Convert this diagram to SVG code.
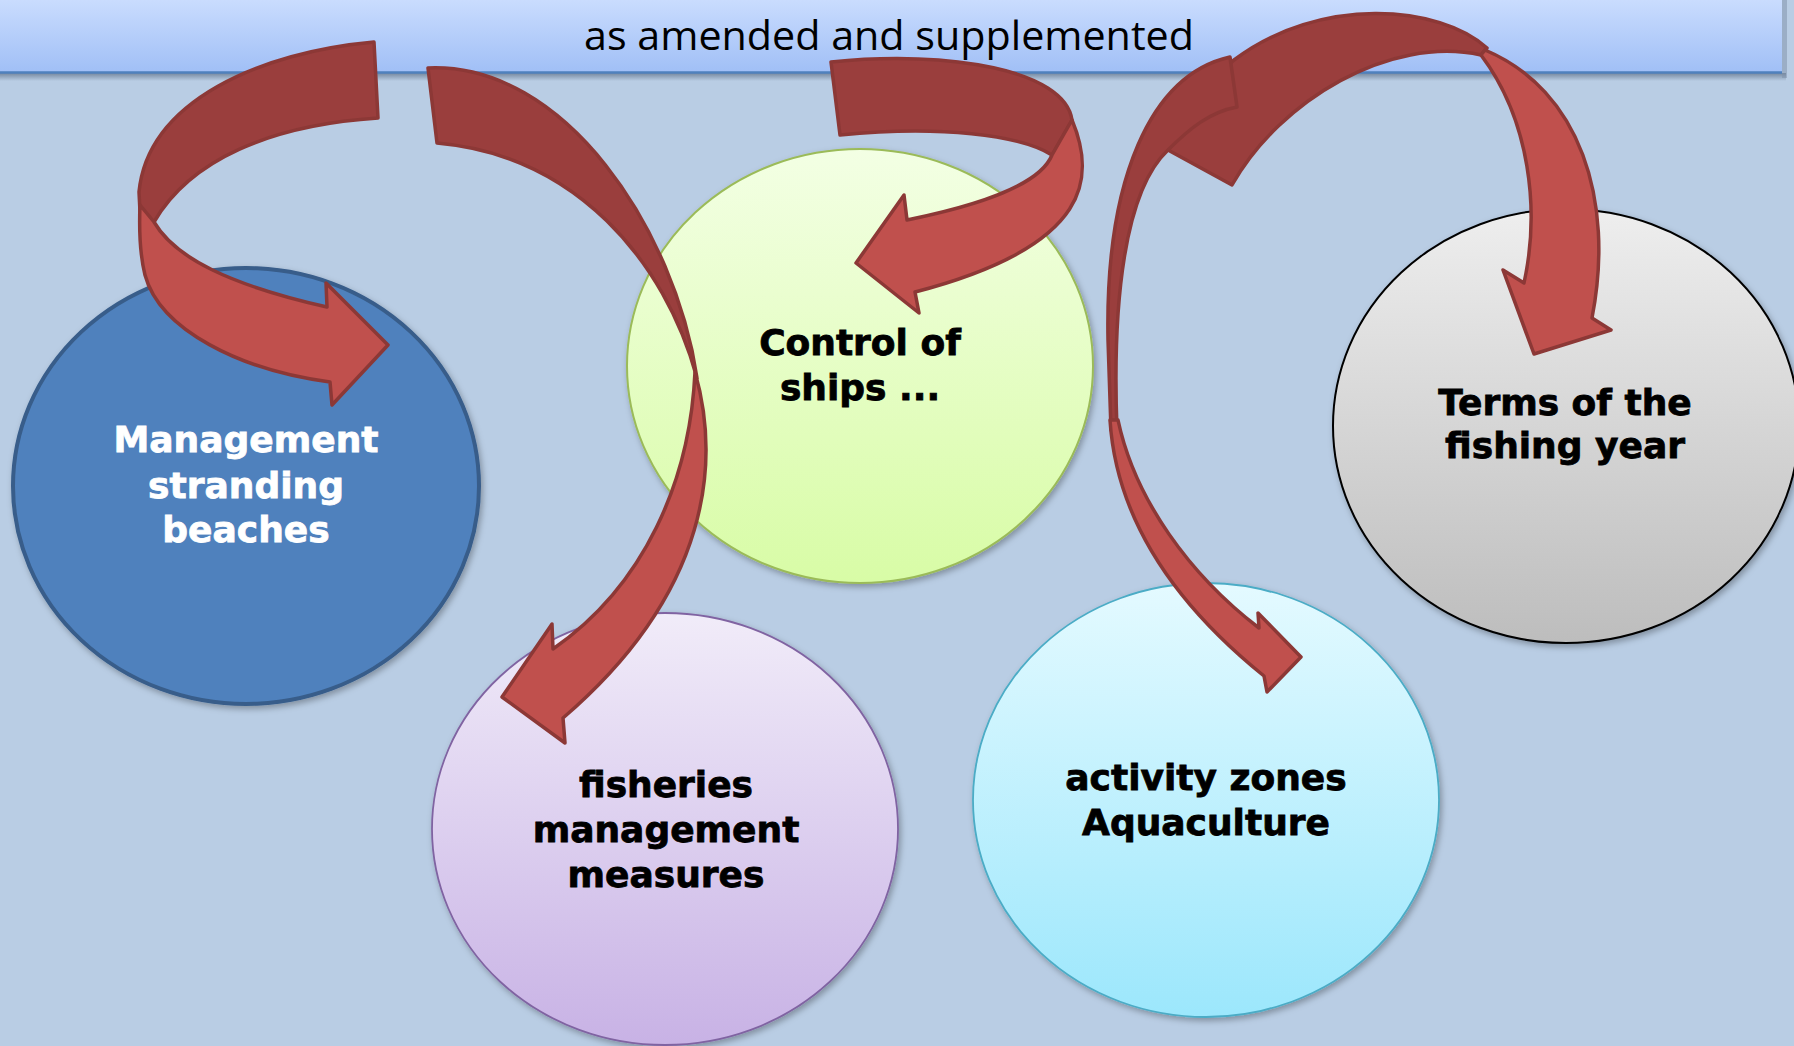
<svg xmlns="http://www.w3.org/2000/svg" width="1794" height="1046" viewBox="0 0 1794 1046">
<defs>
<linearGradient id="gHead" x1="0" y1="0" x2="0" y2="1"><stop offset="0" stop-color="#cfe0ff"/><stop offset="1" stop-color="#a0bff6"/></linearGradient>
<linearGradient id="gHeadSh" x1="0" y1="0" x2="0" y2="1"><stop offset="0" stop-color="#3d4f66" stop-opacity="0.55"/><stop offset="1" stop-color="#3d4f66" stop-opacity="0"/></linearGradient>
<linearGradient id="gGreen" x1="0" y1="0" x2="0" y2="1"><stop offset="0" stop-color="#f3ffe4"/><stop offset="1" stop-color="#d8fca6"/></linearGradient>
<linearGradient id="gGray" x1="0" y1="0" x2="0" y2="1"><stop offset="0" stop-color="#eeeeee"/><stop offset="1" stop-color="#bdbdbd"/></linearGradient>
<linearGradient id="gPurple" x1="0" y1="0" x2="0" y2="1"><stop offset="0" stop-color="#f1ecf9"/><stop offset="1" stop-color="#c8b2e5"/></linearGradient>
<linearGradient id="gCyan" x1="0" y1="0" x2="0" y2="1"><stop offset="0" stop-color="#e4faff"/><stop offset="1" stop-color="#9ce7fc"/></linearGradient>
<filter id="sh" x="-10%" y="-10%" width="125%" height="125%"><feDropShadow dx="2" dy="3" stdDeviation="3" flood-color="#000000" flood-opacity="0.3"/></filter>
</defs>
<style>
.dark{fill:#9a3e3d;stroke:#8c3836;stroke-width:3.5;stroke-linejoin:round}
.light{fill:#c0504d;stroke:#8c3836;stroke-width:3.5;stroke-linejoin:round}
.lbl{font-family:"DejaVu Sans",sans-serif;font-weight:bold;font-size:36px;text-anchor:middle;fill:#000000;stroke:#000000;stroke-width:0.8}
.lblw{fill:#ffffff;stroke:#ffffff}
</style>
<rect x="0" y="0" width="1794" height="1046" fill="#b9cde4"/>
<g id="header">
<rect x="0" y="73" width="1786" height="8" fill="url(#gHeadSh)"/>
<rect x="1782" y="0" width="5" height="78" fill="#7d8fa8" opacity="0.5"/>
<rect x="-10" y="-10" width="1792" height="83" fill="url(#gHead)"/>
<line x1="0" y1="72.5" x2="1782" y2="72.5" stroke="#4f81bd" stroke-width="2.5"/>
<text x="889" y="50" font-family="'Open Sans',sans-serif" font-size="41" textLength="610" lengthAdjust="spacingAndGlyphs" text-anchor="middle" fill="#000000">as amended and supplemented</text>
</g>
<g id="node-management">
<ellipse cx="246" cy="486" rx="233" ry="218" fill="#4f81bd" stroke="#385d8a" stroke-width="4" filter="url(#sh)"/>
<text class="lbl lblw" x="246" y="452">Management</text>
<text class="lbl lblw" x="246" y="498">stranding</text>
<text class="lbl lblw" x="246" y="542">beaches</text>
</g>
<g id="node-control">
<ellipse cx="860" cy="366" rx="233" ry="217" fill="url(#gGreen)" stroke="#9bbb59" stroke-width="2" filter="url(#sh)"/>
<text class="lbl" x="860" y="355">Control of</text>
<text class="lbl" x="860" y="400">ships ...</text>
</g>
<g id="node-terms">
<ellipse cx="1566" cy="426" rx="233" ry="217" fill="url(#gGray)" stroke="#000000" stroke-width="2" filter="url(#sh)"/>
<text class="lbl" x="1565" y="415">Terms of the</text>
<text class="lbl" x="1565" y="458">fishing year</text>
</g>
<g id="node-fisheries">
<ellipse cx="665" cy="829" rx="233" ry="216" fill="url(#gPurple)" stroke="#8064a2" stroke-width="1.8" filter="url(#sh)"/>
<text class="lbl" x="666" y="797">fisheries</text>
<text class="lbl" x="666" y="842">management</text>
<text class="lbl" x="666" y="887">measures</text>
</g>
<g id="node-aquaculture">
<ellipse cx="1206" cy="800" rx="233" ry="217" fill="url(#gCyan)" stroke="#4bacc6" stroke-width="1.8" filter="url(#sh)"/>
<text class="lbl" x="1206" y="790">activity zones</text>
<text class="lbl" x="1206" y="835">Aquaculture</text>
</g>
<g id="connectors">
<g id="arrow-management">
<path class="dark" d="M374,42 C262,52 148,100 139,192 L140,212 L154,222 C190,160 270,125 378,118 Z"/>
<path class="light" d="M140,205 L154,222 C175,258 230,285 327,307 L326,283 L388,345 L332,405 L330,382 C240,370 160,330 145,275 C140,255 139,230 140,205 Z"/>
</g>
<g id="arrow-fisheries">
<path class="dark" d="M428,68 C565,62 675,230 697,378 C665,260 575,155 437,143 Z"/>
<path class="light" d="M695,372 C720,460 712,590 563,718 L565,743 L502,697 L552,624 L553,649 C645,585 690,480 695,372 Z"/>
</g>
<g id="arrow-control">
<path class="dark" d="M831,62 C950,50 1065,70 1072,120 L1052,155 C1020,135 940,125 840,135 Z"/>
<path class="light" d="M1072,120 C1095,175 1095,245 915,292 L919,313 L856,263 L904,195 L907,220 C980,205 1040,185 1052,155 Z"/>
</g>
<g id="arrow-terms">
<path class="dark" d="M1168,150 L1232,185 C1280,100 1390,35 1481,55 L1487,48 C1440,5 1320,-5 1234,60 C1205,82 1182,120 1168,150 Z"/>
<path class="light" d="M1485,50 C1580,90 1615,200 1592,318 L1611,330 L1534,354 L1503,270 L1524,283 C1540,210 1530,120 1481,55 Z"/>
</g>
<g id="arrow-aquaculture">
<path class="dark" d="M1230,57 C1150,75 1105,180 1108,340 L1111,430 L1117,430 C1112,300 1125,190 1168,150 C1190,128 1210,112 1237,107 Z"/>
<path class="light" d="M1110,420 C1116,515 1170,600 1264,676 L1267,692 L1301,657 L1258,613 L1259,628 C1190,575 1135,500 1118,420 Z"/>
</g>
</g>
</svg>
